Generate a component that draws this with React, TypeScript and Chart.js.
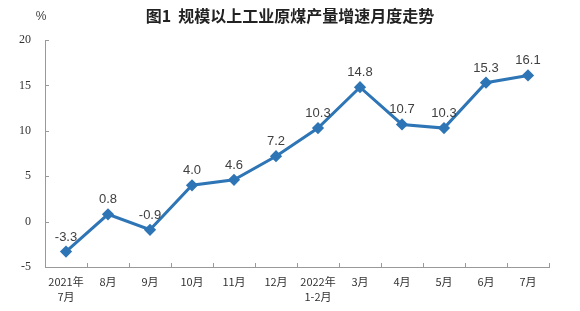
import React, { useEffect, useRef } from "react";
import { Chart, registerables } from "chart.js";

Chart.register(...registerables);

const categories: (string | string[])[] = [
  ["2021年", "7月"], "8月", "9月", "10月", "11月", "12月",
  ["2022年", "1-2月"], "3月", "4月", "5月", "6月", "7月",
];
const growth: number[] = [-3.3, 0.8, -0.9, 4.0, 4.6, 7.2, 10.3, 14.8, 10.7, 10.3, 15.3, 16.1];
const yTicks: number[] = [-5, 0, 5, 10, 15, 20];
const titleText = "图1  规模以上工业原煤产量增速月度走势";
const unitText = "%";

const LINE = "#2e75b6";

const decorPlugin = {
  id: "decor",
  afterDraw(chart: any) {
    const ctx = chart.ctx;
    const area = chart.chartArea;
    ctx.save();
    // title
    ctx.fillStyle = "#222";
    ctx.font = "bold 16px 'Noto Sans CJK SC'";
    ctx.textAlign = "center";
    ctx.textBaseline = "middle";
    ctx.fillText(titleText, 290, 16);
    ctx.font = "12px 'Liberation Sans'";
    ctx.fillStyle = "#444";
    ctx.fillText(unitText, 41, 17);
    // tick marks inside
    ctx.strokeStyle = "#999";
    ctx.lineWidth = 1;
    const ys = chart.scales.y;
    yTicks.forEach((v) => {
      const py = Math.round(ys.getPixelForValue(v)) + 0.5;
      ctx.beginPath();
      ctx.moveTo(area.left, py);
      ctx.lineTo(area.left + 4, py);
      ctx.stroke();
    });
    const n = categories.length;
    const step = (area.right - area.left) / n;
    for (let i = 0; i <= n; i++) {
      const px = Math.round(area.left + i * step) + 0.5;
      ctx.beginPath();
      ctx.moveTo(px, area.bottom);
      ctx.lineTo(px, area.bottom - 4);
      ctx.stroke();
    }
    // data labels
    const meta = chart.getDatasetMeta(0);
    ctx.fillStyle = "#404040";
    ctx.font = "13px 'Liberation Sans'";
    ctx.textAlign = "center";
    ctx.textBaseline = "alphabetic";
    meta.data.forEach((pt: any, i: number) => {
      ctx.fillText(growth[i].toFixed(1), pt.x, pt.y - 11);
    });
    ctx.restore();
  },
};

export default function App() {
  const ref = useRef<HTMLCanvasElement | null>(null);
  useEffect(() => {
    if (!ref.current) return;
    const chart = new Chart(ref.current, {
      type: "line",
      data: {
        labels: categories as any,
        datasets: [
          {
            data: growth,
            borderColor: LINE,
            backgroundColor: LINE,
            borderWidth: 3,
            pointStyle: "rectRot",
            pointRadius: 4,
            pointBackgroundColor: LINE,
            pointBorderColor: LINE,
            tension: 0,
          },
        ],
      },
      options: {
        animation: false,
        responsive: false,
        layout: { padding: { top: 40, right: 31, left: 0, bottom: 0 } },
        plugins: { legend: { display: false }, tooltip: { enabled: false }, title: { display: false } },
        scales: {
          x: {
            offset: true,
            grid: { display: false, drawTicks: false },
            border: { display: true, color: "#999", width: 1 },
            ticks: {
              color: "#333",
              font: { family: "'Noto Sans CJK SC'", size: 11, lineHeight: 1.4 },
              padding: 7,
              maxRotation: 0,
              autoSkip: false,
            },
            afterFit(scale: any) {
              scale.height = 44;
            },
          },
          y: {
            min: -5,
            max: 20,
            grid: { display: false, drawTicks: false },
            border: { display: true, color: "#999", width: 1 },
            ticks: {
              stepSize: 5,
              color: "#333",
              font: { family: "'Liberation Serif'", size: 12 },
              padding: 14,
            },
            afterFit(scale: any) {
              scale.width = 45;
            },
          },
        },
      },
      plugins: [decorPlugin],
    });
    return () => chart.destroy();
  }, []);
  return (
    <div style={{ position: "fixed", left: 0, top: 0, width: 580, height: 311, background: "#fff" }}>
      <canvas ref={ref} width={580} height={311} style={{ width: 580, height: 311 }} />
    </div>
  );
}
